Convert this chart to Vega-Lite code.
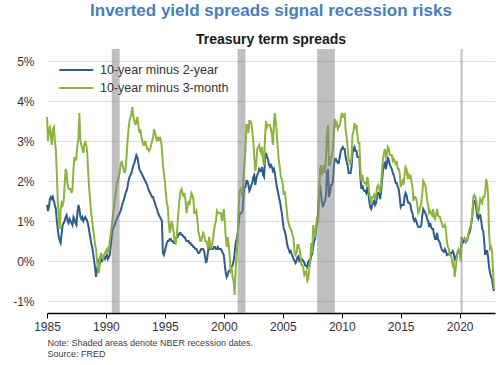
{
"$schema":"https://vega.github.io/schema/vega-lite/v6.json",
"width":448,"height":264,
"autosize":"none",
"padding":{"left":47,"top":49,"right":5,"bottom":52},
"background":"white",
"config":{"font":"Liberation Sans","view":{"stroke":null}},
"title":{"text":"Inverted yield spreads signal recession risks","subtitle":"Treasury term spreads","anchor":"middle","frame":"group","fontSize":17,"fontWeight":"bold","color":"#4a7ebb","subtitleFontSize":14,"subtitleFontWeight":"bold","subtitleColor":"#1a1a1a","subtitlePadding":13,"offset":1},
"layer":[
{"data":{"values":[
{"d":"1985-01","a":1.40,"b":3.6},{"d":"1985-02","a":1.25,"b":3.0},{"d":"1985-03","a":1.35,"b":3.3},{"d":"1985-04","a":1.55,"b":3.35},{"d":"1985-05","a":1.60,"b":3.1},{"d":"1985-06","a":1.55,"b":2.9},{"d":"1985-07","a":1.60,"b":3.3},{"d":"1985-08","a":1.50,"b":3.35},{"d":"1985-09","a":1.40,"b":3.0},{"d":"1985-10","a":1.30,"b":2.8},{"d":"1985-11","a":1.00,"b":2.2},{"d":"1985-12","a":0.80,"b":1.5},
{"d":"1986-01","a":0.6,"b":1.1},{"d":"1986-02","a":0.5,"b":0.8},{"d":"1986-03","a":0.45,"b":1.3},{"d":"1986-04","a":0.7,"b":1.45},{"d":"1986-05","a":0.9,"b":1.4},{"d":"1986-06","a":0.95,"b":1.5},{"d":"1986-07","a":1.0,"b":1.9},{"d":"1986-08","a":1.1,"b":2.3},{"d":"1986-09","a":1.15,"b":2.2},{"d":"1986-10","a":1.0,"b":1.9},{"d":"1986-11","a":0.95,"b":1.8},{"d":"1986-12","a":1.05,"b":1.8},
{"d":"1987-01","a":1.0,"b":1.8},{"d":"1987-02","a":0.95,"b":1.7},{"d":"1987-03","a":0.9,"b":1.8},{"d":"1987-04","a":1.1,"b":2.3},{"d":"1987-05","a":1.05,"b":2.6},{"d":"1987-06","a":0.95,"b":2.5},{"d":"1987-07","a":0.9,"b":2.6},{"d":"1987-08","a":1.2,"b":2.9},{"d":"1987-09","a":1.4,"b":3.1},{"d":"1987-10","a":1.3,"b":3.7},{"d":"1987-11","a":1.1,"b":3.0},{"d":"1987-12","a":1.05,"b":2.9},
{"d":"1988-01","a":1.1,"b":2.8},{"d":"1988-02","a":1.0,"b":2.7},{"d":"1988-03","a":1.05,"b":2.9},{"d":"1988-04","a":1.1,"b":3.0},{"d":"1988-05","a":1.05,"b":2.9},{"d":"1988-06","a":1.0,"b":2.7},{"d":"1988-07","a":0.9,"b":2.2},{"d":"1988-08","a":0.75,"b":1.8},{"d":"1988-09","a":0.6,"b":1.5},{"d":"1988-10","a":0.45,"b":1.2},{"d":"1988-11","a":0.35,"b":1.0},{"d":"1988-12","a":0.2,"b":0.8},
{"d":"1989-01","a":0.0,"b":0.6},{"d":"1989-02","a":-0.2,"b":0.4},{"d":"1989-03","a":-0.4,"b":0.3},{"d":"1989-04","a":-0.2,"b":0.0},{"d":"1989-05","a":-0.1,"b":-0.2},{"d":"1989-06","a":0.0,"b":-0.3},{"d":"1989-07","a":-0.05,"b":0.1},{"d":"1989-08","a":0.05,"b":0.2},{"d":"1989-09","a":0.0,"b":0.1},{"d":"1989-10","a":0.05,"b":0.05},{"d":"1989-11","a":0.1,"b":0.15},{"d":"1989-12","a":0.05,"b":0.2},
{"d":"1990-01","a":0.1,"b":0.25},{"d":"1990-02","a":0.15,"b":0.3},{"d":"1990-03","a":0.05,"b":0.2},{"d":"1990-04","a":0.1,"b":0.3},{"d":"1990-05","a":0.15,"b":0.5},{"d":"1990-06","a":0.4,"b":0.7},{"d":"1990-07","a":0.6,"b":0.9},{"d":"1990-08","a":0.8,"b":1.1},{"d":"1990-09","a":0.85,"b":1.3},{"d":"1990-10","a":0.9,"b":1.5},{"d":"1990-11","a":1.0,"b":1.7},{"d":"1990-12","a":1.05,"b":1.9},
{"d":"1991-01","a":1.1,"b":2.0},{"d":"1991-02","a":1.15,"b":2.1},{"d":"1991-03","a":1.2,"b":2.2},{"d":"1991-04","a":1.25,"b":2.4},{"d":"1991-05","a":1.35,"b":2.5},{"d":"1991-06","a":1.45,"b":2.4},{"d":"1991-07","a":1.5,"b":2.3},{"d":"1991-08","a":1.6,"b":2.2},{"d":"1991-09","a":1.7,"b":2.3},{"d":"1991-10","a":1.75,"b":2.6},{"d":"1991-11","a":1.85,"b":3.0},{"d":"1991-12","a":2.0,"b":3.3},
{"d":"1992-01","a":2.1,"b":3.5},{"d":"1992-02","a":2.15,"b":3.6},{"d":"1992-03","a":2.2,"b":3.7},{"d":"1992-04","a":2.3,"b":3.85},{"d":"1992-05","a":2.4,"b":3.6},{"d":"1992-06","a":2.45,"b":3.5},{"d":"1992-07","a":2.55,"b":3.4},{"d":"1992-08","a":2.65,"b":3.5},{"d":"1992-09","a":2.6,"b":3.6},{"d":"1992-10","a":2.45,"b":3.4},{"d":"1992-11","a":2.3,"b":3.2},{"d":"1992-12","a":2.25,"b":3.3},
{"d":"1993-01","a":2.2,"b":3.1},{"d":"1993-02","a":2.15,"b":3.0},{"d":"1993-03","a":2.1,"b":2.9},{"d":"1993-04","a":2.05,"b":2.9},{"d":"1993-05","a":2.0,"b":3.0},{"d":"1993-06","a":1.95,"b":2.9},{"d":"1993-07","a":1.9,"b":2.8},{"d":"1993-08","a":1.8,"b":2.8},{"d":"1993-09","a":1.75,"b":2.75},{"d":"1993-10","a":1.7,"b":2.8},{"d":"1993-11","a":1.65,"b":2.9},{"d":"1993-12","a":1.6,"b":3.0},
{"d":"1994-01","a":1.6,"b":3.1},{"d":"1994-02","a":1.5,"b":3.3},{"d":"1994-03","a":1.45,"b":3.2},{"d":"1994-04","a":1.35,"b":3.1},{"d":"1994-05","a":1.3,"b":3.0},{"d":"1994-06","a":1.2,"b":3.1},{"d":"1994-07","a":1.15,"b":3.0},{"d":"1994-08","a":1.1,"b":3.1},{"d":"1994-09","a":1.05,"b":3.0},{"d":"1994-10","a":1.0,"b":2.8},{"d":"1994-11","a":0.2,"b":2.4},{"d":"1994-12","a":0.15,"b":2.2},
{"d":"1995-01","a":0.25,"b":2.0},{"d":"1995-02","a":0.35,"b":1.7},{"d":"1995-03","a":0.45,"b":1.45},{"d":"1995-04","a":0.5,"b":1.35},{"d":"1995-05","a":0.5,"b":0.95},{"d":"1995-06","a":0.55,"b":0.7},{"d":"1995-07","a":0.55,"b":0.85},{"d":"1995-08","a":0.5,"b":1.0},{"d":"1995-09","a":0.5,"b":0.85},{"d":"1995-10","a":0.45,"b":0.7},{"d":"1995-11","a":0.45,"b":0.5},{"d":"1995-12","a":0.5,"b":0.45},
{"d":"1996-01","a":0.6,"b":0.6},{"d":"1996-02","a":0.6,"b":0.95},{"d":"1996-03","a":0.65,"b":1.3},{"d":"1996-04","a":0.7,"b":1.55},{"d":"1996-05","a":0.7,"b":1.75},{"d":"1996-06","a":0.65,"b":1.8},{"d":"1996-07","a":0.65,"b":1.7},{"d":"1996-08","a":0.6,"b":1.6},{"d":"1996-09","a":0.6,"b":1.7},{"d":"1996-10","a":0.55,"b":1.5},{"d":"1996-11","a":0.5,"b":1.2},{"d":"1996-12","a":0.5,"b":1.35},
{"d":"1997-01","a":0.5,"b":1.5},{"d":"1997-02","a":0.45,"b":1.4},{"d":"1997-03","a":0.45,"b":1.55},{"d":"1997-04","a":0.4,"b":1.7},{"d":"1997-05","a":0.4,"b":1.65},{"d":"1997-06","a":0.35,"b":1.55},{"d":"1997-07","a":0.35,"b":1.2},{"d":"1997-08","a":0.3,"b":1.2},{"d":"1997-09","a":0.3,"b":1.25},{"d":"1997-10","a":0.25,"b":1.05},{"d":"1997-11","a":0.2,"b":0.75},{"d":"1997-12","a":0.2,"b":0.65},
{"d":"1998-01","a":0.25,"b":0.5},{"d":"1998-02","a":0.3,"b":0.5},{"d":"1998-03","a":0.3,"b":0.6},{"d":"1998-04","a":0.3,"b":0.7},{"d":"1998-05","a":0.25,"b":0.65},{"d":"1998-06","a":0.1,"b":0.5},{"d":"1998-07","a":-0.05,"b":0.5},{"d":"1998-08","a":0.05,"b":0.45},{"d":"1998-09","a":0.25,"b":0.3},{"d":"1998-10","a":0.35,"b":0.6},{"d":"1998-11","a":0.3,"b":0.45},{"d":"1998-12","a":0.3,"b":0.3},
{"d":"1999-01","a":0.3,"b":0.4},{"d":"1999-02","a":0.3,"b":0.55},{"d":"1999-03","a":0.35,"b":0.75},{"d":"1999-04","a":0.35,"b":0.9},{"d":"1999-05","a":0.3,"b":1.0},{"d":"1999-06","a":0.3,"b":1.25},{"d":"1999-07","a":0.35,"b":1.2},{"d":"1999-08","a":0.3,"b":1.2},{"d":"1999-09","a":0.3,"b":1.2},{"d":"1999-10","a":0.3,"b":1.2},{"d":"1999-11","a":0.25,"b":1.0},{"d":"1999-12","a":0.2,"b":1.1},
{"d":"2000-01","a":0.15,"b":1.3},{"d":"2000-02","a":-0.1,"b":0.95},{"d":"2000-03","a":-0.3,"b":0.6},{"d":"2000-04","a":-0.4,"b":0.35},{"d":"2000-05","a":-0.35,"b":0.6},{"d":"2000-06","a":-0.25,"b":0.4},{"d":"2000-07","a":-0.25,"b":0.1},{"d":"2000-08","a":-0.2,"b":-0.25},{"d":"2000-09","a":-0.15,"b":-0.2},{"d":"2000-10","a":-0.1,"b":-0.4},{"d":"2000-11","a":0.0,"b":-0.5},{"d":"2000-12","a":0.2,"b":-0.85},
{"d":"2001-01","a":0.45,"b":-0.2},{"d":"2001-02","a":0.55,"b":0.2},{"d":"2001-03","a":0.65,"b":0.5},{"d":"2001-04","a":0.9,"b":1.25},{"d":"2001-05","a":1.15,"b":1.75},{"d":"2001-06","a":1.2,"b":1.8},{"d":"2001-07","a":1.2,"b":1.75},{"d":"2001-08","a":1.25,"b":1.6},{"d":"2001-09","a":1.6,"b":2.1},{"d":"2001-10","a":1.85,"b":2.4},{"d":"2001-11","a":1.85,"b":2.8},{"d":"2001-12","a":2.0,"b":3.4},
{"d":"2002-01","a":2.0,"b":3.4},{"d":"2002-02","a":1.9,"b":3.2},{"d":"2002-03","a":1.75,"b":3.5},{"d":"2002-04","a":1.8,"b":3.5},{"d":"2002-05","a":1.9,"b":3.45},{"d":"2002-06","a":1.95,"b":3.25},{"d":"2002-07","a":2.1,"b":3.0},{"d":"2002-08","a":2.15,"b":2.6},{"d":"2002-09","a":1.9,"b":2.25},{"d":"2002-10","a":2.05,"b":2.4},{"d":"2002-11","a":2.15,"b":2.8},{"d":"2002-12","a":2.2,"b":2.85},
{"d":"2003-01","a":2.3,"b":2.9},{"d":"2003-02","a":2.25,"b":2.75},{"d":"2003-03","a":2.25,"b":2.7},{"d":"2003-04","a":2.35,"b":2.85},{"d":"2003-05","a":2.15,"b":2.5},{"d":"2003-06","a":2.1,"b":2.4},{"d":"2003-07","a":2.55,"b":3.1},{"d":"2003-08","a":2.7,"b":3.5},{"d":"2003-09","a":2.6,"b":3.35},{"d":"2003-10","a":2.55,"b":3.4},{"d":"2003-11","a":2.4,"b":3.4},{"d":"2003-12","a":2.35,"b":3.4},
{"d":"2004-01","a":2.4,"b":3.3},{"d":"2004-02","a":2.35,"b":3.15},{"d":"2004-03","a":2.25,"b":2.9},{"d":"2004-04","a":2.3,"b":3.45},{"d":"2004-05","a":2.2,"b":3.7},{"d":"2004-06","a":2.0,"b":3.45},{"d":"2004-07","a":1.85,"b":3.15},{"d":"2004-08","a":1.75,"b":2.8},{"d":"2004-09","a":1.6,"b":2.5},{"d":"2004-10","a":1.5,"b":2.35},{"d":"2004-11","a":1.35,"b":2.1},{"d":"2004-12","a":1.2,"b":2.05},
{"d":"2005-01","a":1.0,"b":1.9},{"d":"2005-02","a":0.8,"b":1.65},{"d":"2005-03","a":0.75,"b":1.75},{"d":"2005-04","a":0.65,"b":1.55},{"d":"2005-05","a":0.5,"b":1.3},{"d":"2005-06","a":0.35,"b":1.05},{"d":"2005-07","a":0.3,"b":0.95},{"d":"2005-08","a":0.22,"b":0.85},{"d":"2005-09","a":0.25,"b":0.8},{"d":"2005-10","a":0.18,"b":0.75},{"d":"2005-11","a":0.12,"b":0.65},{"d":"2005-12","a":0.05,"b":0.55},
{"d":"2006-01","a":0.0,"b":0.2},{"d":"2006-02","a":-0.05,"b":0.15},{"d":"2006-03","a":0.0,"b":0.2},{"d":"2006-04","a":0.1,"b":0.4},{"d":"2006-05","a":0.12,"b":0.4},{"d":"2006-06","a":0.0,"b":0.3},{"d":"2006-07","a":0.03,"b":0.15},{"d":"2006-08","a":0.05,"b":-0.1},{"d":"2006-09","a":0.03,"b":-0.1},{"d":"2006-10","a":0.0,"b":-0.2},{"d":"2006-11","a":-0.05,"b":-0.35},{"d":"2006-12","a":-0.12,"b":-0.3},
{"d":"2007-01","a":-0.12,"b":-0.25},{"d":"2007-02","a":-0.15,"b":-0.5},{"d":"2007-03","a":-0.02,"b":-0.45},{"d":"2007-04","a":0.02,"b":-0.2},{"d":"2007-05","a":0.0,"b":0.0},{"d":"2007-06","a":0.12,"b":0.45},{"d":"2007-07","a":0.18,"b":0.2},{"d":"2007-08","a":0.35,"b":0.9},{"d":"2007-09","a":0.5,"b":0.7},{"d":"2007-10","a":0.55,"b":0.65},{"d":"2007-11","a":0.8,"b":0.9},{"d":"2007-12","a":0.95,"b":1.1},
{"d":"2008-01","a":1.25,"b":1.0},{"d":"2008-02","a":1.75,"b":1.65},{"d":"2008-03","a":1.9,"b":2.3},{"d":"2008-04","a":1.65,"b":2.4},{"d":"2008-05","a":1.45,"b":2.15},{"d":"2008-06","a":1.35,"b":2.25},{"d":"2008-07","a":1.45,"b":2.4},{"d":"2008-08","a":1.5,"b":2.2},{"d":"2008-09","a":1.65,"b":2.6},{"d":"2008-10","a":2.2,"b":3.2},{"d":"2008-11","a":2.3,"b":3.4},{"d":"2008-12","a":1.6,"b":2.4},
{"d":"2009-01","a":1.7,"b":2.4},{"d":"2009-02","a":1.9,"b":2.6},{"d":"2009-03","a":1.9,"b":2.6},{"d":"2009-04","a":2.0,"b":2.8},{"d":"2009-05","a":2.35,"b":3.15},{"d":"2009-06","a":2.55,"b":3.55},{"d":"2009-07","a":2.55,"b":3.4},{"d":"2009-08","a":2.5,"b":3.45},{"d":"2009-09","a":2.45,"b":3.3},{"d":"2009-10","a":2.45,"b":3.35},{"d":"2009-11","a":2.6,"b":3.4},{"d":"2009-12","a":2.75,"b":3.55},
{"d":"2010-01","a":2.8,"b":3.7},{"d":"2010-02","a":2.85,"b":3.6},{"d":"2010-03","a":2.8,"b":3.6},{"d":"2010-04","a":2.8,"b":3.7},{"d":"2010-05","a":2.6,"b":3.3},{"d":"2010-06","a":2.5,"b":3.1},{"d":"2010-07","a":2.4,"b":2.85},{"d":"2010-08","a":2.2,"b":2.55},{"d":"2010-09","a":2.2,"b":2.5},{"d":"2010-10","a":2.2,"b":2.4},{"d":"2010-11","a":2.35,"b":2.6},{"d":"2010-12","a":2.7,"b":3.15},
{"d":"2011-01","a":2.8,"b":3.25},{"d":"2011-02","a":2.85,"b":3.45},{"d":"2011-03","a":2.75,"b":3.3},{"d":"2011-04","a":2.75,"b":3.4},{"d":"2011-05","a":2.6,"b":3.15},{"d":"2011-06","a":2.6,"b":2.95},{"d":"2011-07","a":2.6,"b":2.95},{"d":"2011-08","a":2.1,"b":2.3},{"d":"2011-09","a":1.8,"b":2.0},{"d":"2011-10","a":1.9,"b":2.15},{"d":"2011-11","a":1.8,"b":2.0},{"d":"2011-12","a":1.75,"b":1.95},
{"d":"2012-01","a":1.75,"b":1.95},{"d":"2012-02","a":1.7,"b":1.9},{"d":"2012-03","a":1.85,"b":2.1},{"d":"2012-04","a":1.75,"b":2.0},{"d":"2012-05","a":1.5,"b":1.7},{"d":"2012-06","a":1.35,"b":1.55},{"d":"2012-07","a":1.3,"b":1.45},{"d":"2012-08","a":1.4,"b":1.6},{"d":"2012-09","a":1.45,"b":1.6},{"d":"2012-10","a":1.5,"b":1.65},{"d":"2012-11","a":1.4,"b":1.55},{"d":"2012-12","a":1.45,"b":1.65},
{"d":"2013-01","a":1.65,"b":1.85},{"d":"2013-02","a":1.7,"b":1.9},{"d":"2013-03","a":1.7,"b":1.85},{"d":"2013-04","a":1.55,"b":1.7},{"d":"2013-05","a":1.7,"b":1.9},{"d":"2013-06","a":2.0,"b":2.25},{"d":"2013-07","a":2.25,"b":2.55},{"d":"2013-08","a":2.4,"b":2.7},{"d":"2013-09","a":2.45,"b":2.8},{"d":"2013-10","a":2.3,"b":2.6},{"d":"2013-11","a":2.45,"b":2.65},{"d":"2013-12","a":2.6,"b":2.85},
{"d":"2014-01","a":2.5,"b":2.8},{"d":"2014-02","a":2.4,"b":2.65},{"d":"2014-03","a":2.35,"b":2.65},{"d":"2014-04","a":2.3,"b":2.65},{"d":"2014-05","a":2.2,"b":2.5},{"d":"2014-06","a":2.15,"b":2.55},{"d":"2014-07","a":2.05,"b":2.5},{"d":"2014-08","a":1.95,"b":2.4},{"d":"2014-09","a":1.95,"b":2.5},{"d":"2014-10","a":1.85,"b":2.3},{"d":"2014-11","a":1.8,"b":2.3},{"d":"2014-12","a":1.6,"b":2.2},
{"d":"2015-01","a":1.35,"b":1.85},{"d":"2015-02","a":1.4,"b":1.95},{"d":"2015-03","a":1.4,"b":2.0},{"d":"2015-04","a":1.4,"b":1.9},{"d":"2015-05","a":1.6,"b":2.15},{"d":"2015-06","a":1.7,"b":2.35},{"d":"2015-07","a":1.65,"b":2.3},{"d":"2015-08","a":1.5,"b":2.1},{"d":"2015-09","a":1.45,"b":2.15},{"d":"2015-10","a":1.45,"b":2.05},{"d":"2015-11","a":1.4,"b":2.15},{"d":"2015-12","a":1.25,"b":2.0},
{"d":"2016-01","a":1.2,"b":1.85},{"d":"2016-02","a":1.05,"b":1.5},{"d":"2016-03","a":1.0,"b":1.6},{"d":"2016-04","a":1.05,"b":1.6},{"d":"2016-05","a":1.0,"b":1.55},{"d":"2016-06","a":0.9,"b":1.4},{"d":"2016-07","a":0.85,"b":1.2},{"d":"2016-08","a":0.85,"b":1.25},{"d":"2016-09","a":0.85,"b":1.35},{"d":"2016-10","a":0.9,"b":1.45},{"d":"2016-11","a":1.15,"b":1.7},{"d":"2016-12","a":1.3,"b":2.0},
{"d":"2017-01","a":1.25,"b":1.95},{"d":"2017-02","a":1.2,"b":1.9},{"d":"2017-03","a":1.15,"b":1.75},{"d":"2017-04","a":1.05,"b":1.5},{"d":"2017-05","a":1.0,"b":1.4},{"d":"2017-06","a":0.85,"b":1.2},{"d":"2017-07","a":0.95,"b":1.25},{"d":"2017-08","a":0.85,"b":1.2},{"d":"2017-09","a":0.8,"b":1.15},{"d":"2017-10","a":0.8,"b":1.3},{"d":"2017-11","a":0.65,"b":1.1},{"d":"2017-12","a":0.55,"b":1.05},
{"d":"2018-01","a":0.55,"b":1.15},{"d":"2018-02","a":0.7,"b":1.3},{"d":"2018-03","a":0.55,"b":1.15},{"d":"2018-04","a":0.5,"b":1.1},{"d":"2018-05","a":0.45,"b":1.1},{"d":"2018-06","a":0.35,"b":1.0},{"d":"2018-07","a":0.28,"b":0.95},{"d":"2018-08","a":0.25,"b":0.85},{"d":"2018-09","a":0.23,"b":0.85},{"d":"2018-10","a":0.3,"b":0.9},{"d":"2018-11","a":0.25,"b":0.8},{"d":"2018-12","a":0.15,"b":0.5},
{"d":"2019-01","a":0.17,"b":0.35},{"d":"2019-02","a":0.17,"b":0.3},{"d":"2019-03","a":0.15,"b":0.15},{"d":"2019-04","a":0.2,"b":0.15},{"d":"2019-05","a":0.2,"b":0.05},{"d":"2019-06","a":0.25,"b":-0.1},{"d":"2019-07","a":0.2,"b":-0.05},{"d":"2019-08","a":0.03,"b":-0.4},{"d":"2019-09","a":0.05,"b":-0.2},{"d":"2019-10","a":0.15,"b":0.05},{"d":"2019-11","a":0.2,"b":0.25},{"d":"2019-12","a":0.25,"b":0.3},
{"d":"2020-01","a":0.22,"b":0.25},{"d":"2020-02","a":0.15,"b":0.0},{"d":"2020-03","a":0.45,"b":0.6},{"d":"2020-04","a":0.45,"b":0.55},{"d":"2020-05","a":0.5,"b":0.55},{"d":"2020-06","a":0.55,"b":0.55},{"d":"2020-07","a":0.47,"b":0.5},{"d":"2020-08","a":0.5,"b":0.55},{"d":"2020-09","a":0.55,"b":0.55},{"d":"2020-10","a":0.65,"b":0.7},{"d":"2020-11","a":0.7,"b":0.8},{"d":"2020-12","a":0.8,"b":0.85},
{"d":"2021-01","a":0.95,"b":1.0},{"d":"2021-02","a":1.15,"b":1.25},{"d":"2021-03","a":1.5,"b":1.6},{"d":"2021-04","a":1.5,"b":1.65},{"d":"2021-05","a":1.45,"b":1.6},{"d":"2021-06","a":1.3,"b":1.5},{"d":"2021-07","a":1.1,"b":1.25},{"d":"2021-08","a":1.05,"b":1.2},{"d":"2021-09","a":1.15,"b":1.35},{"d":"2021-10","a":1.15,"b":1.55},{"d":"2021-11","a":1.0,"b":1.5},{"d":"2021-12","a":0.8,"b":1.45},
{"d":"2022-01","a":0.75,"b":1.6},{"d":"2022-02","a":0.5,"b":1.6},{"d":"2022-03","a":0.15,"b":1.7},{"d":"2022-04","a":0.25,"b":2.05},{"d":"2022-05","a":0.25,"b":1.95},{"d":"2022-06","a":0.1,"b":1.65},{"d":"2022-07","a":-0.15,"b":0.7},{"d":"2022-08","a":-0.3,"b":0.3},{"d":"2022-09","a":-0.4,"b":0.35},{"d":"2022-10","a":-0.45,"b":0.25},{"d":"2022-11","a":-0.65,"b":-0.25},{"d":"2022-12","a":-0.75,"b":-0.7}
]},
"transform":[{"fold":["a","b"],"as":["s","v"]}],
"mark":{"type":"line","strokeWidth":2},
"encoding":{
"x":{"field":"d","type":"temporal","scale":{"type":"utc","domain":[{"year":1985,"month":1,"date":1,"utc":true},{"year":2023,"month":1,"date":1,"utc":true}]},
"axis":{"format":"%Y","tickCount":{"interval":"year","step":5},"grid":false,"domainColor":"black","domainWidth":1.5,"tickColor":"black","tickWidth":1,"tickSize":5,"labelFontSize":12,"labelColor":"#333333","labelPadding":3,"labelFlush":false,
"title":["Note: Shaded areas denote NBER recession dates.","Source: FRED"],"titleFontSize":9,"titleFontWeight":"normal","titleColor":"#404040","titleAnchor":"start","titleAlign":"left","titlePadding":6,"titleLineHeight":11}},
"y":{"field":"v","type":"quantitative","scale":{"domain":[-1.3,5.3],"nice":false,"zero":false},
"axis":{"values":[-1,0,1,2,3,4,5],"labelExpr":"datum.value + '%'","domain":false,"ticks":false,"gridColor":"#dddddd","gridWidth":1,"labelFontSize":12,"labelColor":"#333333","labelPadding":13,"title":null}},
"color":{"field":"s","type":"nominal","scale":{"domain":["a","b"],"range":["#2e5d8b","#8cb43e"]},
"legend":{"orient":"none","legendX":11,"legendY":14,"title":null,"symbolType":"M-1,0H5","symbolSize":128,"symbolStrokeWidth":2,"labelFontSize":12.5,"labelColor":"#333333","labelOffset":28,"rowPadding":4,"labelExpr":"datum.label == 'a' ? '10-year minus 2-year' : '10-year minus 3-month'"}}
}},
{"data":{"values":[{"s":"1990-07","e":"1991-03"},{"s":"2001-03","e":"2001-11"},{"s":"2007-12","e":"2009-06"},{"s":"2020-02","e":"2020-04"}]},
"mark":{"type":"rect","color":"#7f7f7f","opacity":0.5},
"encoding":{"x":{"field":"s","type":"temporal"},"x2":{"field":"e"}}},
{"mark":{"type":"rule","strokeDash":[11,9],"strokeWidth":2.5,"color":"black"},
"encoding":{"y":{"datum":0}}}
]
}
